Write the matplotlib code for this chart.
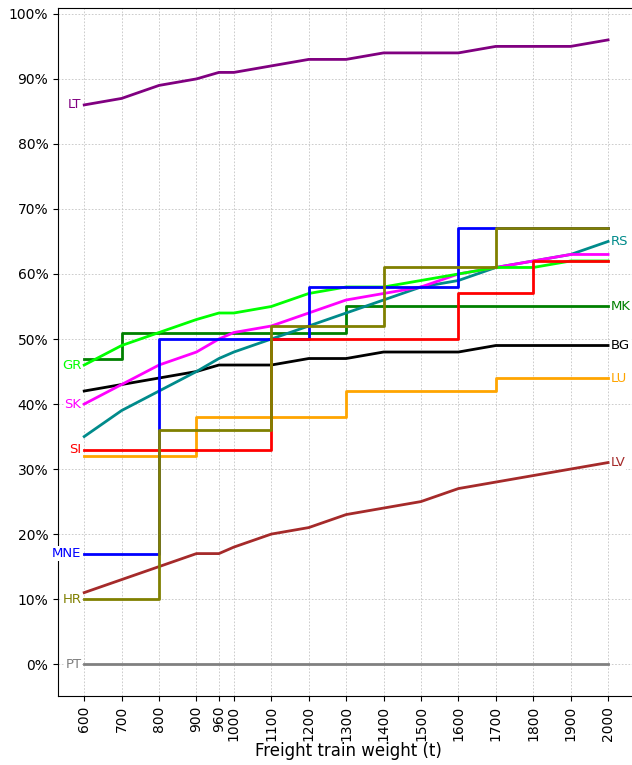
import matplotlib
matplotlib.use("Agg")
import matplotlib.pyplot as plt
from matplotlib.ticker import FuncFormatter

# freight train weight (t)
weights = [600, 700, 800, 900, 960, 1000, 1100, 1200, 1300, 1400, 1500, 1600, 1700, 1800, 1900, 2000]

# share per country, in percent
lt = [86, 87, 89, 90, 91, 91, 92, 93, 93, 94, 94, 94, 95, 95, 95, 96]
gr = [46, 49, 51, 53, 54, 54, 55, 57, 58, 58, 59, 60, 61, 61, 62, 62]
sk = [40, 43, 46, 48, 50, 51, 52, 54, 56, 57, 58, 60, 61, 62, 63, 63]
rs = [35, 39, 42, 45, 47, 48, 50, 52, 54, 56, 58, 59, 61, 62, 63, 65]
bg = [42, 43, 44, 45, 46, 46, 46, 47, 47, 48, 48, 48, 49, 49, 49, 49]
mk = [47, 51, 51, 51, 51, 51, 51, 51, 55, 55, 55, 55, 55, 55, 55, 55]
mne = [17, 17, 50, 50, 50, 50, 50, 58, 58, 58, 58, 67, 67, 67, 67, 67]
si = [33, 33, 33, 33, 33, 33, 50, 50, 50, 50, 50, 57, 57, 62, 62, 62]
lu = [32, 32, 32, 38, 38, 38, 38, 38, 42, 42, 42, 42, 44, 44, 44, 44]
hr = [10, 10, 36, 36, 36, 36, 52, 52, 52, 61, 61, 61, 67, 67, 67, 67]
lv = [11, 13, 15, 17, 17, 18, 20, 21, 23, 24, 25, 27, 28, 29, 30, 31]
pt = [0] * 16

# (name, values, colour, stepped, label side)
series = [
    ("PT", pt, "gray", False, "left"),
    ("LV", lv, "brown", False, "right"),
    ("LU", lu, "orange", True, "right"),
    ("BG", bg, "black", False, "right"),
    ("MK", mk, "green", True, "right"),
    ("RS", rs, "darkcyan", False, "right"),
    ("SK", sk, "magenta", False, "left"),
    ("GR", gr, "lime", False, "left"),
    ("MNE", mne, "blue", True, "left"),
    ("SI", si, "red", True, "left"),
    ("HR", hr, "olive", True, "left"),
    ("LT", lt, "purple", False, "left"),
]

fig = plt.figure(figsize=(6.32, 7.65), dpi=100)
ax = fig.add_axes([0.0918, 0.0902, 0.9177, 0.8993])

for name, vals, color, stepped, side in series:
    ax.plot(weights, vals, color=color, lw=2,
            drawstyle="steps-post" if stepped else "default")
    if side == "left":
        xy, off, ha = (weights[0], vals[0]), (-2, 0), "right"
    else:
        xy, off, ha = (weights[-1], vals[-1]), (2, 0), "left"
    ax.annotate(name, xy=xy, xytext=off, textcoords="offset points",
                ha=ha, va="center", color=color, fontsize=9.5, zorder=5,
                bbox=dict(boxstyle="square,pad=0.05", fc="white", ec="none"))

ax.set_xlim(530, 2080)
ax.set_ylim(-4.9, 100.9)
ax.set_xticks(weights)
ax.set_xticklabels([str(w) for w in weights], rotation=90, fontsize=10)
ax.set_yticks(range(0, 101, 10))
ax.yaxis.set_major_formatter(FuncFormatter(lambda v, _: f"{v:.0f}%"))
ax.tick_params(axis="y", labelsize=10)
ax.grid(True, color="#c4c4c4", linestyle=(0, (2, 2)), lw=0.6)
ax.set_axisbelow(True)
ax.set_xlabel("Freight train weight (t)", fontsize=12, labelpad=1)

fig.savefig("out.png", dpi=100)
